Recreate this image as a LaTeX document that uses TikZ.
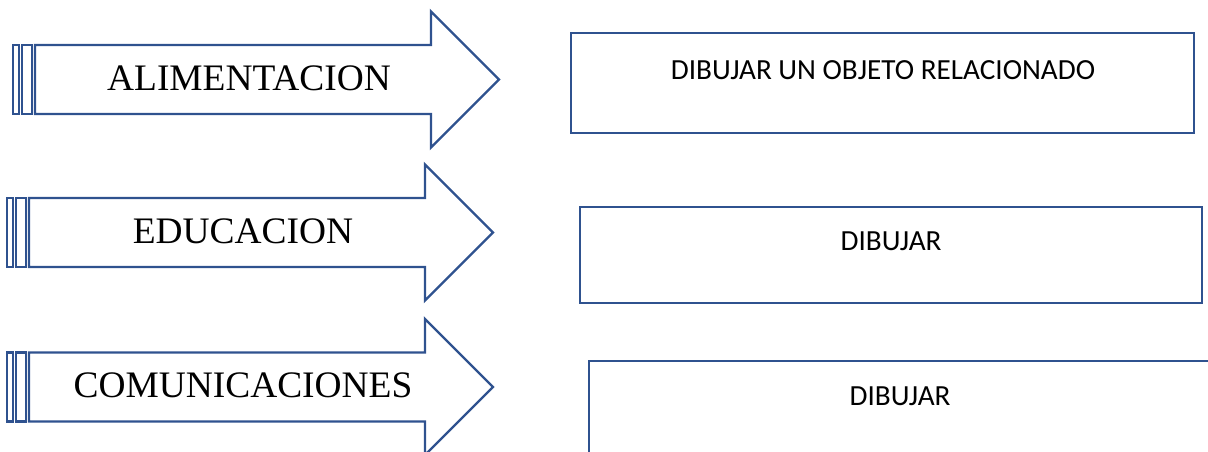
\documentclass[tikz,border=0pt]{standalone}
\usepackage{fontspec}
\setmainfont{Liberation Serif}
\newfontfamily\boxfont{Carlito}
\usepackage{tikz}
\usetikzlibrary{positioning}
\definecolor{officeblue}{RGB}{47,82,143}

\begin{document}
\begin{tikzpicture}[x=0.5pt,y=-0.5pt,
    outline/.style={draw=officeblue,line width=1.2pt},
    theme/.style={font=\fontsize{18.7}{22}\selectfont,inner sep=0pt,anchor=base},
    task/.style={font=\boxfont\fontsize{14.6}{17}\selectfont,inner sep=0pt,anchor=base}]
    \useasboundingbox (0,0) rectangle (1208,451);

    % striped arrows on the left
    \foreach \dx/\cy/\name/\label in {6/79.5/alim/ALIMENTACION,0/232.5/edu/EDUCACION,0/387/com/COMUNICACIONES}{
        \draw[outline] (\dx+7,\cy-34.5) rectangle (\dx+13,\cy+34.5);
        \draw[outline] (\dx+16,\cy-34.5) rectangle (\dx+26,\cy+34.5);
        \draw[outline] (\dx+29,\cy-34.5) -- (\dx+425,\cy-34.5) -- (\dx+425,\cy-68)
            -- (\dx+493,\cy) -- (\dx+425,\cy+68) -- (\dx+425,\cy+34.5) -- (\dx+29,\cy+34.5) -- cycle;
        \node[theme] (\name) at (\dx+243,\cy+10.5) {\label};
    }

    % boxes on the right
    \draw[outline] (571,33) rectangle (1194,133);
    \node[task] (objeto) at (883,79) {DIBUJAR UN OBJETO RELACIONADO};
    \draw[outline] (580,207) rectangle (1202,303);
    \node[task] (dibujarB) at (891,250) {DIBUJAR};
    \draw[outline] (589,452) -- (589,361) -- (1209,361);
    \node[task] (dibujarC) at (900,405) {DIBUJAR};
\end{tikzpicture}
\end{document}
